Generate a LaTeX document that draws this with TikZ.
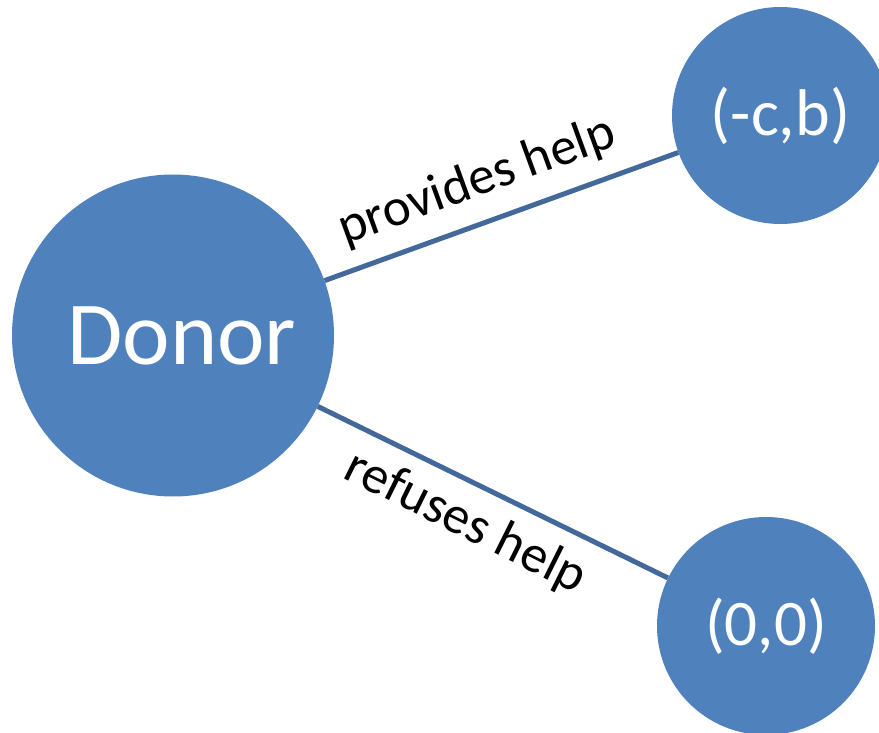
\documentclass[tikz,border=0pt]{standalone}
\usepackage{fontspec}
\setmainfont{Carlito}
\begin{document}
\begin{tikzpicture}[x=1pt,y=-1pt,
  state/.style={circle, fill=nodeblue, text=white, inner sep=0pt},
  conn/.style={draw=linkblue, line width=5pt},
  edgelabel/.style={anchor=base, inner sep=0pt, font=\fontsize{53}{53}\selectfont}]
  \definecolor{nodeblue}{HTML}{4F81BD}
  \definecolor{linkblue}{HTML}{43699B}
  \useasboundingbox (0,0) rectangle (879,733);
  % players and outcomes
  \node[state, minimum size=322pt] (donor) at (173,335.5) {};
  \node[text=white, font=\fontsize{90}{90}\selectfont, inner sep=0pt] (donortext) at (182,335.5) {Donor};
  \node[state, minimum size=217pt, font=\fontsize{66}{66}\selectfont] (help) at (780.5,115.5) {(-c,b)};
  \node[state, minimum size=218pt, font=\fontsize{65}{65}\selectfont] (nohelp) at (766,626) {(0,0)};
  % choices
  \draw[conn] (donor) -- (help);
  \draw[conn] (donor) -- (nohelp);
  \node[edgelabel, rotate=20] (lprov) at (482,195) {provides help};
  \node[edgelabel, rotate=-26.5] (lref) at (459,535.5) {refuses help};
\end{tikzpicture}
\end{document}
